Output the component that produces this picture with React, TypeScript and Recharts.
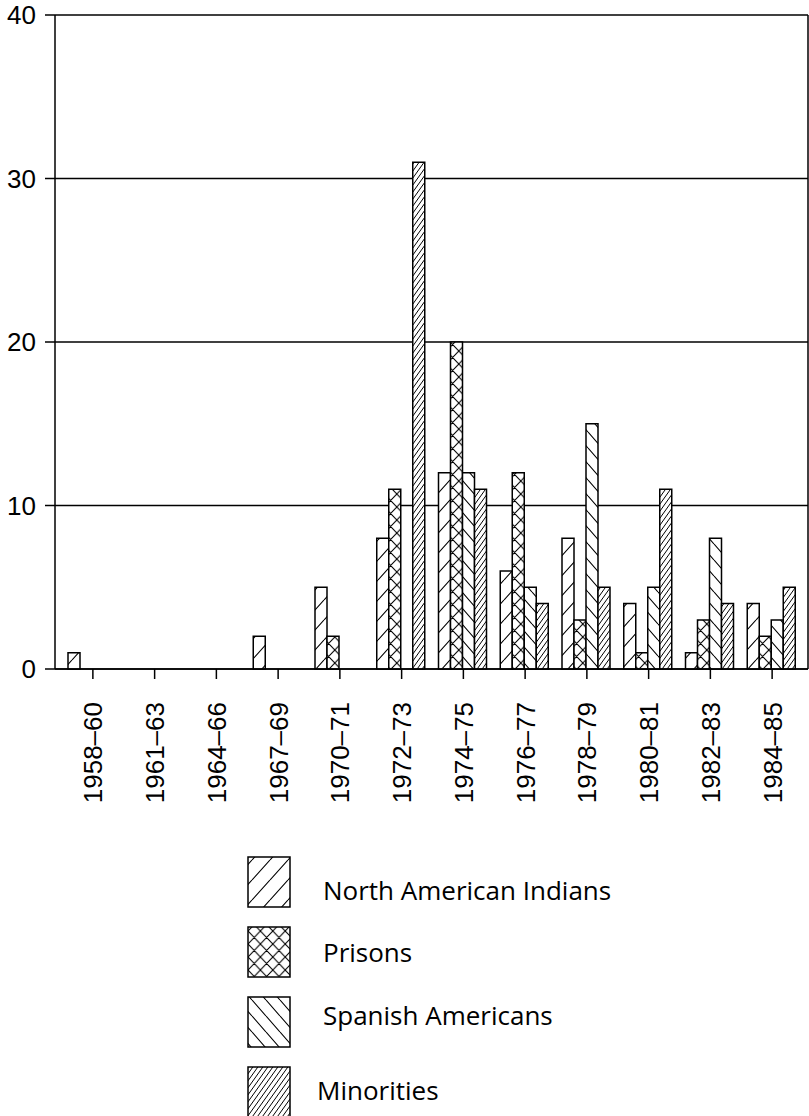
import { BarChart, Bar, XAxis, YAxis, CartesianGrid } from "recharts";

// counts per period
const periods = [
  "1958–60", "1961–63", "1964–66", "1967–69", "1970–71", "1972–73",
  "1974–75", "1976–77", "1978–79", "1980–81", "1982–83", "1984–85",
];
const northAmericanIndians = [1, 0, 0, 2, 5, 8, 12, 6, 8, 4, 1, 4];
const prisons = [0, 0, 0, 0, 2, 11, 20, 12, 3, 1, 3, 2];
const spanishAmericans = [0, 0, 0, 0, 0, 0, 12, 5, 15, 5, 8, 3];
const minorities = [0, 0, 0, 0, 0, 31, 11, 4, 5, 11, 4, 5];
const yTicks = [0, 10, 20, 30, 40];

const series = [
  { key: "indians", name: "North American Indians", pattern: "indians" },
  { key: "prisons", name: "Prisons", pattern: "prisons" },
  { key: "spanish", name: "Spanish Americans", pattern: "spanish" },
  { key: "minorities", name: "Minorities", pattern: "minorities" },
];

const data = periods.map((period, i) => ({
  period,
  indians: northAmericanIndians[i],
  prisons: prisons[i],
  spanish: spanishAmericans[i],
  minorities: minorities[i],
}));

const INK = "#000";
const axisFont = "'Liberation Sans', Arial, sans-serif";

// "/" lines: tile corner to corner, plus neighbours so the joins don't gap
const slash = (w: number, h: number) =>
  `M${-w},${h} L0,0 M0,${h} L${w},0 M${w},${h} L${2 * w},0`;
const backslash = (w: number, h: number) =>
  `M${-w},0 L0,${h} M0,0 L${w},${h} M${w},0 L${2 * w},${h}`;

function Hatches({ prefix }: { prefix: string }) {
  return (
    <defs>
      <pattern id={`${prefix}-indians`} patternUnits="userSpaceOnUse" width={18} height={20}>
        <rect width={18} height={20} fill="#fff" />
        <path d={slash(18, 20)} stroke={INK} strokeWidth={1.1} />
      </pattern>
      <pattern id={`${prefix}-prisons`} patternUnits="userSpaceOnUse" width={12.4} height={13}>
        <rect width={12.4} height={13} fill="#fff" />
        <path d={slash(12.4, 13) + " " + backslash(12.4, 13)} stroke={INK} strokeWidth={1.1} />
      </pattern>
      <pattern id={`${prefix}-spanish`} patternUnits="userSpaceOnUse" width={14} height={16}>
        <rect width={14} height={16} fill="#fff" />
        <path d={backslash(14, 16)} stroke={INK} strokeWidth={1.1} />
      </pattern>
      <pattern id={`${prefix}-minorities`} patternUnits="userSpaceOnUse" width={5} height={7}>
        <rect width={5} height={7} fill="#fff" />
        <path d={slash(5, 7)} stroke={INK} strokeWidth={1} />
      </pattern>
    </defs>
  );
}

const PeriodTick = (props: any) => {
  const { x, y, payload } = props;
  return (
    <g transform={`translate(${x},${y + 21})`}>
      <text
        transform="rotate(-90)"
        textAnchor="end"
        dy="0.36em"
        fontSize={26}
        fontFamily={axisFont}
        fill={INK}
      >
        {payload.value}
      </text>
    </g>
  );
};

function HatchLegend() {
  const baselines = [900, 962, 1025, 1100];
  return (
    <svg
      width={809}
      height={276}
      style={{ position: "absolute", left: 0, top: 840 }}
    >
      <Hatches prefix="lg" />
      {series.map((s, i) => (
        <g key={s.key}>
          <rect
            x={248}
            y={17 + i * 70}
            width={42}
            height={50}
            fill={`url(#lg-${s.pattern})`}
            stroke={INK}
            strokeWidth={1.5}
          />
          <text
            x={i === 3 ? 317 : 323}
            y={baselines[i] - 840}
            fontSize={26}
            fontFamily="'Open Sans', sans-serif"
            fill={INK}
          >
            {s.name}
          </text>
        </g>
      ))}
    </svg>
  );
}

export default function App() {
  return (
    <div
      style={{
        position: "absolute",
        left: 0,
        top: 0,
        width: 809,
        height: 1116,
        background: "#fff",
      }}
    >
      <BarChart
        width={809}
        height={1116}
        data={data}
        margin={{ top: 15, right: 0, left: 0, bottom: 307 }}
        barCategoryGap={6}
        barGap={0}
      >
        <Hatches prefix="ch" />
        <CartesianGrid vertical={false} stroke={INK} strokeWidth={1.5} />
        <XAxis
          dataKey="period"
          height={140}
          interval={0}
          padding={{ left: 7, right: 5 }}
          tickSize={10}
          tick={<PeriodTick />}
          axisLine={{ stroke: INK, strokeWidth: 1.5 }}
          tickLine={{ stroke: INK, strokeWidth: 1.5 }}
        />
        <YAxis
          width={55}
          domain={[0, 40]}
          ticks={yTicks}
          interval={0}
          tickSize={10}
          tickMargin={9}
          tick={{ fontSize: 26, fontFamily: axisFont, fill: INK }}
          axisLine={{ stroke: INK, strokeWidth: 1.5 }}
          tickLine={{ stroke: INK, strokeWidth: 1.5 }}
        />
        <YAxis
          yAxisId="right"
          orientation="right"
          width={1}
          domain={[0, 40]}
          tick={false}
          tickLine={false}
          axisLine={{ stroke: INK, strokeWidth: 1.5 }}
        />
        {series.map((s) => (
          <Bar
            key={s.key}
            dataKey={s.key}
            name={s.name}
            fill={`url(#ch-${s.pattern})`}
            stroke={INK}
            strokeWidth={1.5}
            isAnimationActive={false}
          />
        ))}
      </BarChart>
      <HatchLegend />
    </div>
  );
}
